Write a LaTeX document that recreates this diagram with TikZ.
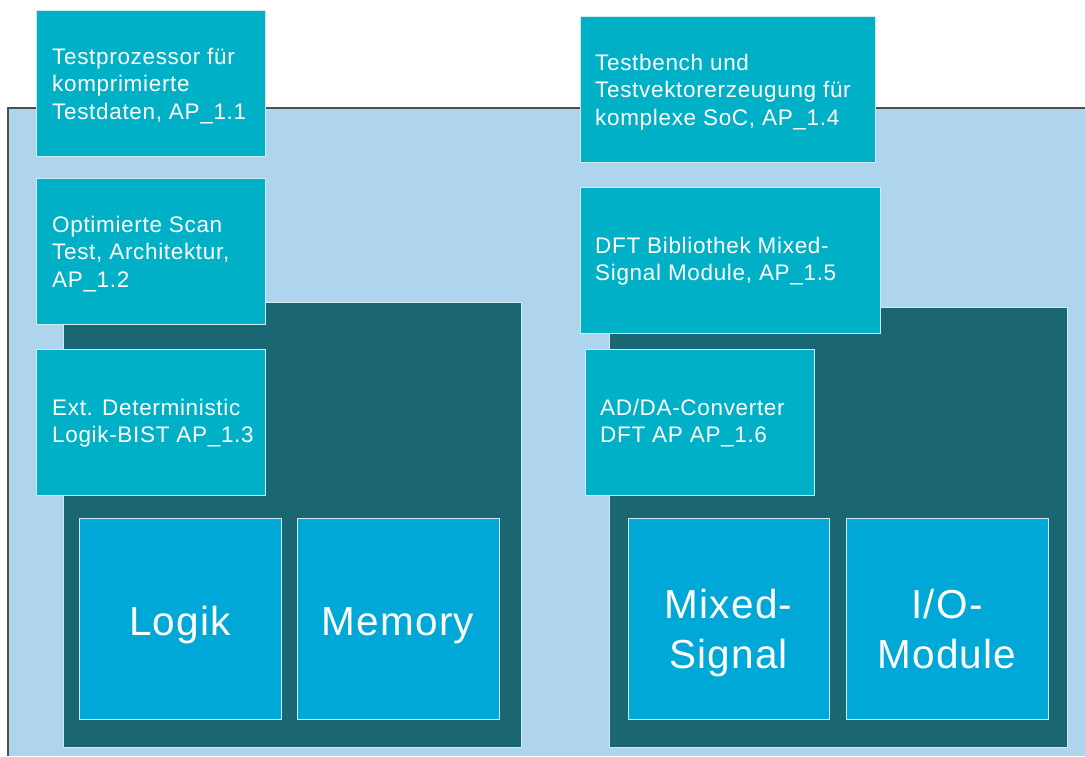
\documentclass[tikz,border=0pt]{standalone}
\usepackage{fontspec}
\setmainfont{Liberation Sans}[LetterSpace=3]
\definecolor{bgblue}{HTML}{AFD5EE}
\definecolor{tealbox}{HTML}{00B0C7}
\definecolor{darkbox}{HTML}{1B6673}
\definecolor{modbox}{HTML}{00A8D8}
\definecolor{edgecol}{HTML}{CDEAF0}
\definecolor{framecol}{HTML}{505050}
\tikzset{
  box/.style={draw=edgecol, line width=0.8pt, inner sep=0pt, outer sep=0pt, anchor=north west},
  tbox/.style={box, fill=tealbox},
  dbox/.style={box, fill=darkbox},
  mbox/.style={box, fill=modbox},
  lbl/.style={text=white, align=left, inner sep=0pt, anchor=west, font=\fontsize{22.5}{27.5}\selectfont},
  big/.style={text=white, align=center, inner sep=0pt, font=\fontsize{40.5}{50}\selectfont}
}
\begin{document}
\begin{tikzpicture}[x=1pt,y=-1pt]
\useasboundingbox (0,0) rectangle (1085,756);
% background region
\fill[bgblue] (8,108) rectangle (1085,756);
\coordinate (fbl) at (8,756);
\coordinate (ftl) at (8,108);
\coordinate (ftr) at (1085,108);
\draw[framecol, line width=1.5pt] (fbl) -- (ftl) -- (ftr);
% dark containers
\node[dbox, minimum width=458pt, minimum height=445pt] (dl) at (63,302) {};
\node[dbox, minimum width=458pt, minimum height=440pt] (dr) at (609,307) {};
% left work packages
\node[tbox, minimum width=229pt, minimum height=146pt] (a1) at (36,10) {};
\node[lbl] (a1t) at ([xshift=16pt,yshift=-3pt]a1.west) {Testprozessor für\\komprimierte\\Testdaten, AP\_1.1};
\node[tbox, minimum width=229pt, minimum height=146pt] (a2) at (36,178) {};
\node[lbl] (a2t) at ([xshift=16pt,yshift=-3pt]a2.west) {Optimierte Scan\\Test, Architektur,\\AP\_1.2};
\node[tbox, minimum width=229pt, minimum height=146pt] (a3) at (36,349) {};
\node[lbl] (a3t) at ([xshift=16pt,yshift=-1pt]a3.west) {Ext. Deterministic\\Logik-BIST AP\_1.3};
% right work packages
\node[tbox, minimum width=295pt, minimum height=146pt] (a4) at (580,16) {};
\node[lbl] (a4t) at ([xshift=15pt,yshift=-3pt]a4.west) {Testbench und\\Testvektorerzeugung für\\komplexe SoC, AP\_1.4};
\node[tbox, minimum width=300pt, minimum height=146pt] (a5) at (580,187) {};
\node[lbl] (a5t) at ([xshift=15pt,yshift=-1pt]a5.west) {DFT Bibliothek Mixed-\\Signal Module, AP\_1.5};
\node[tbox, minimum width=229pt, minimum height=146pt] (a6) at (585,349) {};
\node[lbl] (a6t) at ([xshift=15pt,yshift=-1pt]a6.west) {AD/DA-Converter\\DFT AP AP\_1.6};
% modules
\node[mbox, minimum width=202pt, minimum height=201pt] (m1) at (79,518) {};
\node[big, anchor=base] (m1t) at ([yshift=-16.5pt]m1.center) {Logik};
\node[mbox, minimum width=202pt, minimum height=201pt] (m2) at (297,518) {};
\node[big, anchor=base] (m2t) at ([yshift=-16.5pt]m2.center) {Memory};
\node[mbox, minimum width=201pt, minimum height=201pt] (m3) at (628,518) {};
\node[big] (m3t) at ([yshift=-15pt]m3.center) {Mixed-\\Signal};
\node[mbox, minimum width=202pt, minimum height=201pt] (m4) at (846,518) {};
\node[big] (m4t) at ([yshift=-11pt]m4.center) {I/O-\\Module};
\end{tikzpicture}
\end{document}
